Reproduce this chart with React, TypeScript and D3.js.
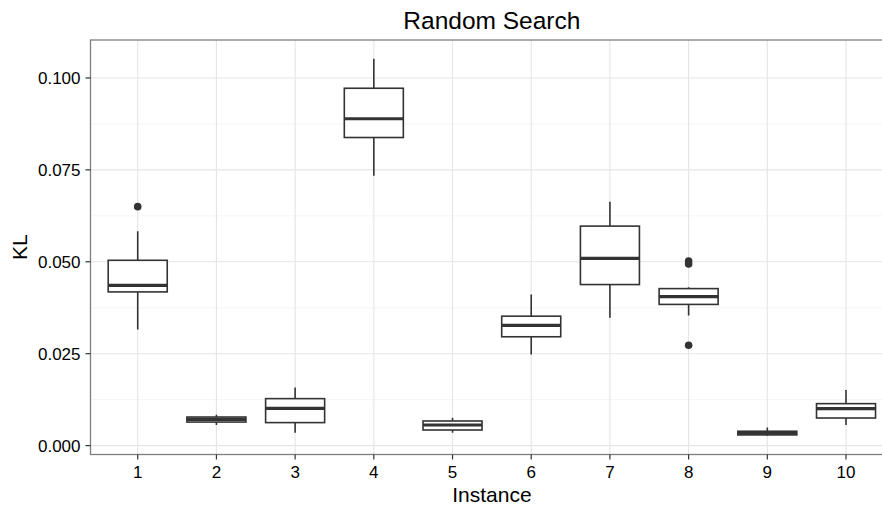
import React from "react";
import * as d3 from "d3";

const instances = ["1", "2", "3", "4", "5", "6", "7", "8", "9", "10"];
const whiskerLow = [0.0316, 0.0056, 0.0035, 0.0734, 0.0035, 0.0248, 0.0348, 0.0354, 0.0027, 0.0056];
const q1 = [0.0418, 0.0064, 0.00625, 0.0838, 0.00424, 0.0296, 0.0438, 0.0384, 0.0029, 0.0075];
const median = [0.0436, 0.00715, 0.0101, 0.0889, 0.0056, 0.0327, 0.0509, 0.0405, 0.0034, 0.01005];
const q3 = [0.0504, 0.00777, 0.01277, 0.0972, 0.00669, 0.0352, 0.0597, 0.0427, 0.0039, 0.01141];
const whiskerHigh = [0.0583, 0.0084, 0.0158, 0.1052, 0.0076, 0.0411, 0.0663, 0.0431, 0.0049, 0.0151];
const outlierInstance = ["1", "8", "8", "8"];
const outlierValue = [0.065, 0.0502, 0.0494, 0.0273];
const yTicks = [0, 0.025, 0.05, 0.075, 0.1];
const yMinor = [0.0125, 0.0375, 0.0625, 0.0875];

const W = 882;
const H = 509;
const FONT = "'Liberation Sans', Arial, Helvetica, sans-serif";

export default function App() {
  const left = 90.5;
  const top = 40;
  const bottom = 454.5;
  const step = 78.7;
  const right = left + step * 10.2;

  const x = d3.scaleBand<string>().domain(instances).range([left, right]).paddingInner(0).paddingOuter(0.1);
  const bw = x.bandwidth();
  const cx = (c: string) => (x(c) as number) + bw / 2;

  const lo = Math.min(d3.min(whiskerLow) as number, d3.min(outlierValue) as number);
  const hi = Math.max(d3.max(whiskerHigh) as number, d3.max(outlierValue) as number);
  const pad = (hi - lo) * 0.05;
  const y = d3.scaleLinear().domain([lo - pad, hi + pad]).range([bottom, top]);

  const boxW = bw * 0.75;
  const ink = "#333333";

  return (
    <svg width={W} height={H} style={{ position: "absolute", left: 0, top: 0, display: "block" }} fontFamily={FONT}>
      <defs>
        <clipPath id="panel">
          <rect x={left} y={top} width={right - left} height={bottom - top} />
        </clipPath>
      </defs>
      <rect x={0} y={0} width={W} height={H} fill="#ffffff" />
      <g clipPath="url(#panel)">
        <rect x={left} y={top} width={right - left} height={bottom - top} fill="#ffffff" />
        {yMinor.map((t) => (
          <line key={"mi" + t} x1={left} x2={right} y1={y(t)} y2={y(t)} stroke="#f3f3f3" strokeWidth={0.8} />
        ))}
        {yTicks.map((t) => (
          <line key={"ma" + t} x1={left} x2={right} y1={y(t)} y2={y(t)} stroke="#e5e5e5" strokeWidth={1.1} />
        ))}
        {instances.map((c) => (
          <line key={"vx" + c} x1={cx(c)} x2={cx(c)} y1={top} y2={bottom} stroke="#e5e5e5" strokeWidth={1.1} />
        ))}
        {instances.map((c, i) => {
          const xc = cx(c);
          return (
            <g key={"b" + c}>
              <line x1={xc} x2={xc} y1={y(q3[i])} y2={y(whiskerHigh[i])} stroke={ink} strokeWidth={1.6} />
              <line x1={xc} x2={xc} y1={y(q1[i])} y2={y(whiskerLow[i])} stroke={ink} strokeWidth={1.6} />
              <rect
                x={xc - boxW / 2}
                y={y(q3[i])}
                width={boxW}
                height={Math.max(0, y(q1[i]) - y(q3[i]))}
                fill="#ffffff"
                stroke={ink}
                strokeWidth={1.6}
              />
              <line x1={xc - boxW / 2} x2={xc + boxW / 2} y1={y(median[i])} y2={y(median[i])} stroke={ink} strokeWidth={3.2} />
            </g>
          );
        })}
        {outlierValue.map((v, i) => (
          <circle key={"o" + i} cx={cx(outlierInstance[i])} cy={y(v)} r={3.8} fill={ink} />
        ))}
      </g>
      <rect x={left} y={top} width={right - left} height={bottom - top} fill="none" stroke="#7f7f7f" strokeWidth={1.3} />
      {yTicks.map((t) => (
        <g key={"yt" + t}>
          <line x1={left - 5} x2={left} y1={y(t)} y2={y(t)} stroke="#333333" strokeWidth={1.2} />
          <text x={left - 10} y={y(t)} dy="0.36em" textAnchor="end" fontSize={17} fill="#000000">
            {d3.format(".3f")(t)}
          </text>
        </g>
      ))}
      {instances.map((c) => (
        <g key={"xt" + c}>
          <line x1={cx(c)} x2={cx(c)} y1={bottom} y2={bottom + 5} stroke="#333333" strokeWidth={1.2} />
          <text x={cx(c)} y={477.5} textAnchor="middle" fontSize={17} fill="#000000">
            {c}
          </text>
        </g>
      ))}
      <text x={(left + right) / 2} y={501.7} textAnchor="middle" fontSize={21} fill="#000000">
        Instance
      </text>
      <text transform={`translate(26.7, ${(top + bottom) / 2}) rotate(-90)`} textAnchor="middle" fontSize={21} fill="#000000">
        KL
      </text>
      <text x={(left + right) / 2} y={28.5} textAnchor="middle" fontSize={24.5} fill="#000000">
        Random Search
      </text>
    </svg>
  );
}
